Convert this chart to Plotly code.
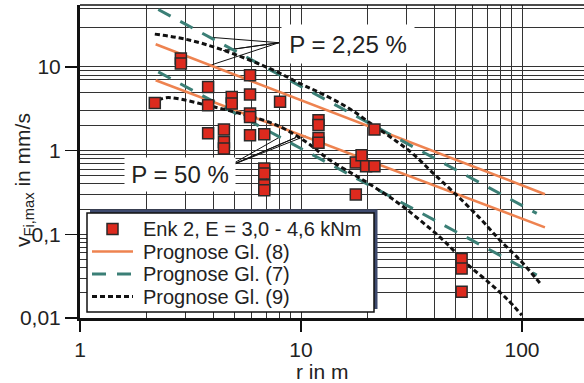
import plotly.graph_objects as go

# ---------------- data ----------------
r_obs = [2.18, 2.86, 2.86, 3.8, 3.8, 3.8, 4.48, 4.48, 4.48, 4.86, 4.86,
         5.88, 5.88, 5.88, 5.88, 5.88, 6.82, 6.82, 6.82, 6.82, 6.82, 8.04,
         12.0, 12.0, 12.0, 12.0, 17.7, 17.7, 18.8, 19.7, 21.5, 21.5,
         53.3, 53.3, 53.3]
v_obs = [3.72, 12.6, 11.0, 5.78, 3.5, 1.61, 1.79, 1.27, 1.06, 4.39, 3.66,
         7.98, 4.7, 2.78, 2.53, 1.53, 1.57, 0.61, 0.535, 0.387, 0.337, 3.83,
         2.31, 2.02, 1.42, 1.24, 0.72, 0.30, 0.88, 0.65, 1.79, 0.65,
         0.0506, 0.039, 0.0206]

r_gl8_upper = [2.2, 127]
v_gl8_upper = [18.7, 0.302]
r_gl8_lower = [2.2, 127]
v_gl8_lower = [6.96, 0.121]

r_gl7_upper = [2.26, 116.6]
v_gl7_upper = [48.6, 0.178]
r_gl7_lower = [2.26, 116.6]
v_gl7_lower = [8.73, 0.0326]

r_gl9_upper = [2.18, 3.03, 4.45, 7.5, 9.89, 12.2, 16.1, 21.2, 27.1, 32.2,
               39.7, 50.6, 64.6, 79.4, 97.9, 122.7]
v_gl9_upper = [24.7, 21.4, 15.9, 9.16, 6.35, 4.9, 3.33, 2.02, 1.29, 0.91,
               0.535, 0.294, 0.155, 0.0853, 0.0492, 0.0247]
r_gl9_lower = [2.26, 2.45, 2.75, 3.74, 5.3, 7.76, 10.6, 13.5, 19.1, 27.1,
               34.5, 44.0, 56.1, 71.6, 85.1, 99.8]
v_gl9_lower = [4.0, 4.3, 4.2, 3.5, 2.78, 2.02, 1.26, 0.771, 0.445, 0.244,
               0.148, 0.0853, 0.0449, 0.0259, 0.0171, 0.0108]

# pointer lines of the labels (target, apex, target, apex, target)
r_ptr_225 = [3.94, 7.95, 4.45, 7.95, 3.81]
v_ptr_225 = [22.6, 19.5, 15.7, 19.5, 10.3]
r_ptr_50 = [7.95, 4.63, 9.49, 4.63, 10.5]
v_ptr_50 = [1.436, 0.638, 1.436, 0.638, 1.50]

legend_labels = ["Enk 2, E = 3,0 - 4,6 kNm", "Prognose Gl. (8)",
                 "Prognose Gl. (7)", "Prognose Gl. (9)"]

x_tickvals = [1, 10, 100]
x_ticktext = ["1", "10", "100"]
y_tickvals = [0.01, 0.1, 1, 10]
y_ticktext = ["0,01", "0,1", "1", "10"]
x_minor = [2, 3, 4, 5, 6, 7, 8, 9, 20, 30, 40, 50, 60, 70, 80, 90, 200]
y_minor = [0.02, 0.03, 0.04, 0.05, 0.06, 0.07, 0.08, 0.09,
           0.2, 0.3, 0.4, 0.5, 0.6, 0.7, 0.8, 0.9,
           2, 3, 5, 7, 8, 9, 30, 50]

# ---------------- styling ----------------
FONT = "Liberation Sans, Arial, Helvetica, sans-serif"
ORANGE = "#EE8350"
TEAL = "#3B7F76"
BLACK = "#111111"
RED = "#DD2A1E"
TXT = "#222222"

W, H = 584, 383
L, T, B = 80, 5, 65
PW, PH = W - L, H - T - B
DEC_X, DEC_Y = 221.0, 83.67


def px_x(p):
    return (p - L) / PW


def px_y(p):
    return (H - B - p) / PH


fig = go.Figure()

# pointer lines
for rr, vv in ((r_ptr_225, v_ptr_225), (r_ptr_50, v_ptr_50)):
    fig.add_trace(go.Scatter(x=rr, y=vv, mode="lines", showlegend=False,
                             line=dict(color="#111", width=1), hoverinfo="skip"))

style8 = dict(color=ORANGE, width=2.6)
style7 = dict(color=TEAL, width=3, dash="14px,11px")
style9 = dict(color=BLACK, width=3, dash="5px,3px")

fig.add_trace(go.Scatter(x=r_gl8_upper, y=v_gl8_upper, mode="lines",
                         name=legend_labels[1], line=style8))
fig.add_trace(go.Scatter(x=r_gl8_lower, y=v_gl8_lower, mode="lines",
                         name=legend_labels[1], line=style8))
fig.add_trace(go.Scatter(x=r_gl7_upper, y=v_gl7_upper, mode="lines",
                         name=legend_labels[2], line=style7))
fig.add_trace(go.Scatter(x=r_gl7_lower, y=v_gl7_lower, mode="lines",
                         name=legend_labels[2], line=style7))
fig.add_trace(go.Scatter(x=r_gl9_upper, y=v_gl9_upper, mode="lines",
                         name=legend_labels[3], line=dict(style9, shape="spline")))
fig.add_trace(go.Scatter(x=r_gl9_lower, y=v_gl9_lower, mode="lines",
                         name=legend_labels[3], line=dict(style9, shape="spline")))
fig.add_trace(go.Scatter(x=r_obs, y=v_obs, mode="markers",
                         name=legend_labels[0],
                         marker=dict(symbol="square", size=11, color=RED,
                                     line=dict(color="#2a2a2a", width=1.5))))

# ---- legend box drawn by hand (to reproduce the compact framed legend) ----
LEG_ROWS = [229, 251.5, 274, 296.5]
shapes = [
    dict(type="line", xref="paper", yref="paper", x0=0, x1=1, y0=1, y1=1,
         line=dict(color="#111", width=1.5), layer="above"),
    dict(type="rect", xref="paper", yref="paper",
         x0=px_x(90), x1=px_x(377.5), y0=px_y(309), y1=px_y(209.5),
         fillcolor="#3E4A6E", line=dict(width=0), layer="above"),
    dict(type="rect", xref="paper", yref="paper",
         x0=px_x(87), x1=px_x(374), y0=px_y(312), y1=px_y(213),
         fillcolor="white", line=dict(color="#111", width=1.5), layer="above"),
    dict(type="rect", xref="paper", yref="paper",
         x0=px_x(107), x1=px_x(118), y0=px_y(LEG_ROWS[0] + 5.5), y1=px_y(LEG_ROWS[0] - 5.5),
         fillcolor=RED, line=dict(color="#2a2a2a", width=1.5), layer="above"),
]
for row, st in zip(LEG_ROWS[1:], (style8, style7, style9)):
    shapes.append(dict(type="line", xref="paper", yref="paper",
                       x0=px_x(92), x1=px_x(133), y0=px_y(row), y1=px_y(row),
                       line=st, layer="above"))

annotations = [
    dict(text="P = 2,25 %", xref="paper", yref="paper", x=px_x(348), y=px_y(44),
         showarrow=False, font=dict(family=FONT, size=24, color=TXT),
         bgcolor="white", width=130, height=36, xanchor="center", yanchor="middle"),
    dict(text="P = 50 %", xref="paper", yref="paper", x=px_x(180), y=px_y(174),
         showarrow=False, font=dict(family=FONT, size=24, color=TXT),
         bgcolor="white", width=108, height=31, xanchor="center", yanchor="middle"),
    dict(text="v<sub>Fi,max</sub> in mm/s", xref="paper", yref="paper",
         x=px_x(24), y=px_y(180), textangle=-90, showarrow=False,
         font=dict(family=FONT, size=21, color=TXT),
         xanchor="center", yanchor="middle"),
    dict(text="r in m", xref="paper", yref="paper", x=px_x(322), y=px_y(371),
         showarrow=False, font=dict(family=FONT, size=21, color=TXT),
         xanchor="center", yanchor="middle"),
]
for row, lab in zip(LEG_ROWS, legend_labels):
    annotations.append(dict(text=lab, xref="paper", yref="paper",
                            x=px_x(141), y=px_y(row), showarrow=False,
                            xanchor="left", yanchor="middle",
                            font=dict(family=FONT, size=20, color=TXT)))

fig.update_layout(
    width=W, height=H,
    margin=dict(l=L, r=0, t=T, b=B, pad=0),
    paper_bgcolor="white", plot_bgcolor="white",
    font=dict(family=FONT, size=21, color=TXT),
    showlegend=False,
    shapes=shapes, annotations=annotations, hovermode=False,
)

fig.update_xaxes(type="log", range=[0, PW / DEC_X],
                 tickvals=x_tickvals, ticktext=x_ticktext,
                 ticks="outside", ticklen=11, tickwidth=1.5, tickcolor="#111",
                 showline=True, linewidth=3, linecolor="#111",
                 showgrid=True, gridcolor="#333333", gridwidth=1,
                 minor=dict(tickvals=x_minor, showgrid=True, gridcolor="#333333",
                            gridwidth=1, ticks=""),
                 tickfont=dict(size=21), zeroline=False)
fig.update_yaxes(type="log", range=[-2, -2 + PH / DEC_Y],
                 tickvals=y_tickvals, ticktext=y_ticktext,
                 ticks="outside", ticklen=12, tickwidth=1.5, tickcolor="#111",
                 showline=True, linewidth=3, linecolor="#111",
                 showgrid=True, gridcolor="#333333", gridwidth=1,
                 minor=dict(tickvals=y_minor, showgrid=True, gridcolor="#333333",
                            gridwidth=1, ticks=""),
                 tickfont=dict(size=21), zeroline=False)

fig.write_html("out.html", config=dict(displayModeBar=False, staticPlot=True),
               post_script="document.body.style.margin='0px';document.body.style.padding='0px';")
